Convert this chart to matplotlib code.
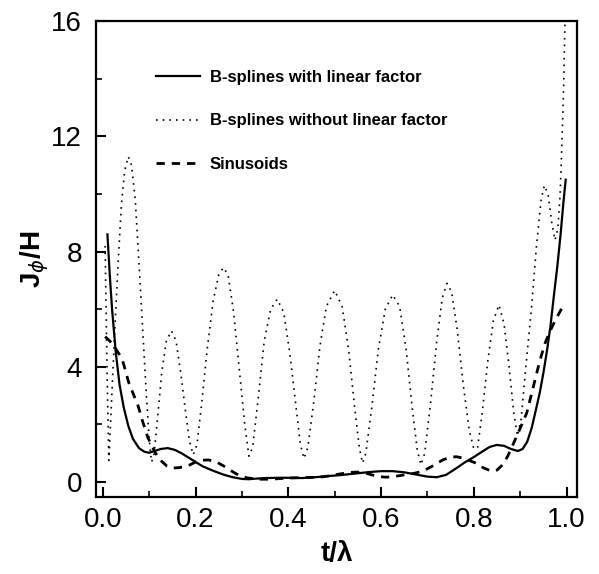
import matplotlib
matplotlib.use('Agg')
import matplotlib.pyplot as plt

# B-splines without linear factor (dotted)
t_dot = [0.005, 0.009, 0.013, 0.018, 0.025, 0.033, 0.040, 0.047, 0.055, 0.062,
         0.070, 0.078, 0.086, 0.094, 0.100, 0.105, 0.110, 0.118, 0.127, 0.137,
         0.148, 0.158, 0.168, 0.178, 0.187, 0.195, 0.203, 0.213, 0.225, 0.238,
         0.250, 0.260, 0.270, 0.282, 0.295, 0.306, 0.315, 0.323, 0.335, 0.348,
         0.362, 0.376, 0.390, 0.403, 0.416, 0.426, 0.434, 0.442, 0.455, 0.468,
         0.482, 0.500, 0.516, 0.530, 0.543, 0.553, 0.560, 0.567, 0.580, 0.594,
         0.609, 0.625, 0.640, 0.654, 0.667, 0.678, 0.686, 0.694, 0.707, 0.720,
         0.732, 0.742, 0.752, 0.764, 0.777, 0.790, 0.800, 0.808, 0.818, 0.830,
         0.842, 0.854, 0.865, 0.876, 0.886, 0.894, 0.902, 0.912, 0.924, 0.935,
         0.945, 0.952, 0.960, 0.968, 0.975, 0.981, 0.986, 0.990, 0.994, 0.997]
j_dot = [8.2, 4.0, 0.75, 2.5, 5.0, 7.6, 9.6, 10.8, 11.3, 11.0,
         9.8, 7.6, 5.3, 3.0, 1.5, 0.7, 0.9, 2.2, 3.8, 4.9,
         5.25, 4.9, 3.8, 2.5, 1.4, 0.95, 1.3, 2.7, 4.6, 6.3,
         7.2, 7.45, 7.2, 5.9, 3.8, 2.0, 0.9, 1.2, 2.9, 4.9,
         6.0, 6.35, 5.9, 4.5, 2.7, 1.3, 0.82, 1.2, 2.8, 4.7,
         6.1, 6.65, 6.1, 4.6, 2.6, 1.2, 0.66, 1.0, 2.6, 4.6,
         6.0, 6.5, 6.1, 4.6, 2.6, 1.1, 0.6, 1.0, 2.8, 4.9,
         6.4, 6.9, 6.6, 5.3, 3.4, 1.8, 1.15, 1.2, 2.4, 4.2,
         5.6, 6.15, 5.5, 4.0, 2.4, 1.6, 2.2, 4.0, 6.0, 8.2,
         9.8, 10.3, 10.0, 9.0, 8.4, 8.8, 10.0, 11.8, 14.0, 16.5]

# B-splines with linear factor (solid)
t_sol = [0.010, 0.015, 0.020, 0.028, 0.036, 0.045, 0.055, 0.065, 0.078, 0.090,
         0.100, 0.112, 0.125, 0.140, 0.155, 0.170, 0.185, 0.200, 0.215, 0.237,
         0.260, 0.280, 0.300, 0.315, 0.330, 0.350, 0.380, 0.410, 0.430, 0.450,
         0.480, 0.510, 0.540, 0.575, 0.600, 0.625, 0.650, 0.683, 0.700, 0.720,
         0.740, 0.763, 0.780, 0.800, 0.820, 0.834, 0.849, 0.865, 0.880, 0.895,
         0.905, 0.915, 0.925, 0.935, 0.942, 0.950, 0.958, 0.965, 0.972, 0.980,
         0.987, 0.993, 0.998]
j_sol = [8.6, 7.2, 6.0, 4.5, 3.4, 2.6, 1.95, 1.5, 1.18, 1.05,
         1.02, 1.08, 1.15, 1.18, 1.12, 1.0, 0.85, 0.7, 0.55, 0.4,
         0.26, 0.17, 0.11, 0.1, 0.12, 0.14, 0.15, 0.15, 0.14, 0.16,
         0.2, 0.24, 0.29, 0.35, 0.38, 0.38, 0.34, 0.24, 0.19, 0.17,
         0.25, 0.49, 0.68, 0.87, 1.08, 1.22, 1.29, 1.26, 1.15, 1.08,
         1.15, 1.4, 1.9, 2.6, 3.1, 3.8, 4.6, 5.4, 6.4, 7.5,
         8.6, 9.7, 10.5]

# Sinusoids (dashed)
t_das = [0.005, 0.015, 0.025, 0.035, 0.043, 0.050, 0.056, 0.066, 0.076, 0.086,
         0.097, 0.106, 0.114, 0.125, 0.138, 0.151, 0.163, 0.175, 0.188, 0.200,
         0.215, 0.228, 0.245, 0.265, 0.280, 0.293, 0.310, 0.325, 0.340, 0.360,
         0.380, 0.400, 0.420, 0.445, 0.468, 0.490, 0.510, 0.530, 0.547, 0.565,
         0.580, 0.595, 0.612, 0.630, 0.650, 0.670, 0.690, 0.710, 0.733, 0.750,
         0.763, 0.780, 0.795, 0.806, 0.820, 0.838, 0.850, 0.862, 0.873, 0.884,
         0.898, 0.914, 0.928, 0.942, 0.953, 0.963, 0.975, 0.990]
j_das = [5.05, 4.9, 4.7, 4.45, 4.2, 3.8, 3.45, 3.05, 2.65, 2.1,
         1.55, 1.25, 1.0, 0.75, 0.56, 0.49, 0.5, 0.53, 0.6, 0.7,
         0.76, 0.77, 0.7, 0.52, 0.36, 0.24, 0.15, 0.12, 0.1, 0.1,
         0.12, 0.14, 0.15, 0.16, 0.17, 0.22, 0.28, 0.33, 0.35, 0.32,
         0.25, 0.19, 0.17, 0.2, 0.25, 0.3, 0.38, 0.55, 0.77, 0.87,
         0.88, 0.82, 0.72, 0.65, 0.5, 0.38, 0.42, 0.6, 0.9, 1.29,
         1.8, 2.4, 3.3, 4.2, 4.8, 5.2, 5.6, 6.05]

labels = ['B-splines with linear factor', 'B-splines without linear factor', 'Sinusoids']

plt.rcParams['font.family'] = ['Liberation Sans', 'DejaVu Sans']
plt.rcParams['mathtext.fontset'] = 'custom'
plt.rcParams['mathtext.rm'] = 'Liberation Sans:bold'
plt.rcParams['mathtext.bf'] = 'Liberation Sans:bold'

fig = plt.figure(figsize=(5.99, 5.74), dpi=100)
ax = fig.add_axes([0.160, 0.134, 0.803, 0.829])

ax.plot(t_sol, j_sol, color='black', lw=1.6, label=labels[0])
ax.plot(t_dot, j_dot, color='black', lw=1.2, linestyle=(0, (1, 3)), label=labels[1])
ax.plot(t_das, j_das, color='black', lw=2.0, linestyle=(0, (3, 2.5)), label=labels[2])

ax.set_xlim(-0.015, 1.022)
ax.set_ylim(-0.52, 16)
ax.set_xticks([0.0, 0.2, 0.4, 0.6, 0.8, 1.0])
ax.set_xticklabels(['0.0', '0.2', '0.4', '0.6', '0.8', '1.0'])
ax.set_xticks([0.1, 0.3, 0.5, 0.7, 0.9], minor=True)
ax.set_yticks([0, 4, 8, 12, 16])
ax.set_yticks([2, 6, 10, 14], minor=True)
ax.tick_params(which='major', direction='in', length=7, width=1.5, labelsize=20)
ax.tick_params(which='minor', direction='in', length=4, width=1.2)
ax.tick_params(axis='y', pad=10)
ax.tick_params(axis='x', pad=7)
for sp in ax.spines.values():
    sp.set_linewidth(1.6)

ax.set_xlabel('t/λ', fontsize=20, fontweight='bold', labelpad=6)
ax.set_ylabel(r'J$_{\phi}$/H', fontsize=20, fontweight='bold', labelpad=0)

leg = ax.legend(loc='upper left', bbox_to_anchor=(0.112, 0.912), frameon=False,
                prop={'size': 12, 'weight': 'bold'}, handlelength=2.6,
                handletextpad=0.6, labelspacing=1.72, borderaxespad=0)

fig.savefig('out.png', dpi=100)
